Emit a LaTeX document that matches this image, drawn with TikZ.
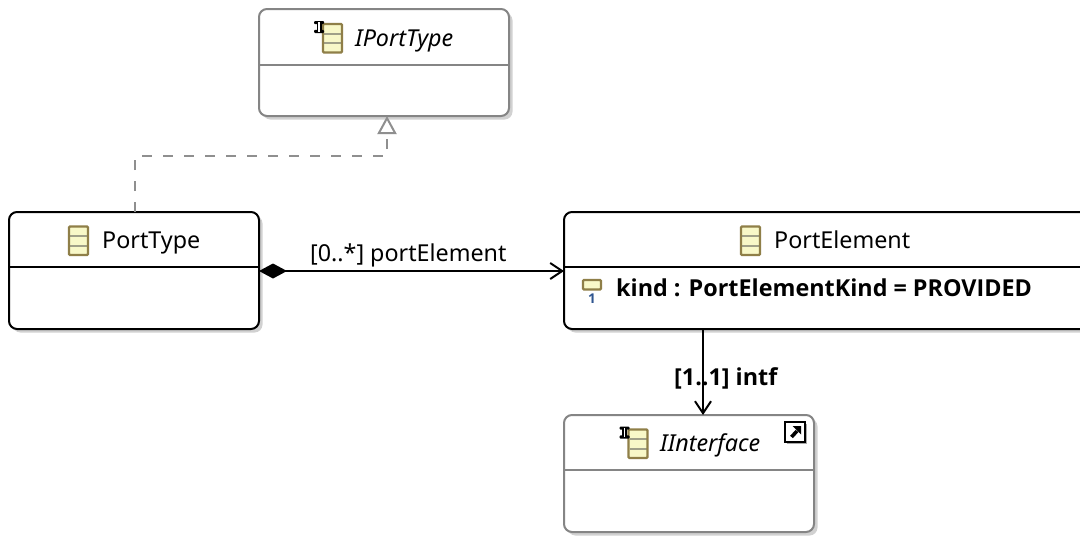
\documentclass[tikz,border=0pt]{standalone}
\usepackage{fontspec}
\setmainfont{Noto Sans}
\newfontfamily\boldfam{Open Sans}
\usetikzlibrary{arrows.meta,shadows}
\definecolor{edgegray}{HTML}{858585}
\definecolor{dashgray}{HTML}{8F8F8F}
\definecolor{iconfill}{HTML}{F8F8C8}
\definecolor{iconedge}{HTML}{8F7F48}
\definecolor{iconbar}{HTML}{A0A088}
\definecolor{iconblue}{HTML}{2F5590}
\tikzset{
  classbox/.style={draw=black,fill=white,line width=2pt,rounded corners=8pt,inner sep=0pt,outer sep=0pt,
    drop shadow={shadow xshift=3.5pt,shadow yshift=-3.5pt,fill=black!18,opacity=1}},
  graybox/.style={classbox,draw=edgegray},
  divider/.style={line width=2pt},
  label/.style={inner sep=0pt,font=\fontsize{23.3}{26}\selectfont},
  boldlabel/.style={label,font=\fontsize{23.35}{26}\selectfont\boldfam\bfseries},
  ital/.style={label,font=\fontsize{23.3}{26}\selectfont\itshape},
  classicon/.pic={
    \fill[iconfill] (0,0) rectangle (19,28.5);
    \draw[iconbar,line width=2pt] (1,9.5) -- (18,9.5) (1,19) -- (18,19);
    \draw[iconedge,line width=2.2pt,rounded corners=1pt] (0,0) rectangle (19,28.5);
  },
  lockmark/.pic={
    \fill[black,rounded corners=1pt] (0,0) rectangle (10,3.2);
    \fill[black,rounded corners=1pt] (0,8.8) rectangle (10,12);
    \fill[black] (2.5,2) rectangle (7.5,10);
    \fill[white] (4.2,1.3) rectangle (5.8,10.7);
  },
}
\begin{document}
\begin{tikzpicture}[x=1pt,y=-1pt]
\useasboundingbox (0,0) rectangle (1080,536);
\clip (0,0) rectangle (1080,536);
\fill[white] (0,0) rectangle (1080,536);

% boxes
\node[graybox,anchor=north west,minimum width=250pt,minimum height=107pt] (iport) at (259,9) {};
\node[classbox,anchor=north west,minimum width=250pt,minimum height=117pt] (ptype) at (9,212) {};
\node[classbox,anchor=north west,minimum width=560pt,minimum height=117pt] (pelem) at (564,212) {};
\node[graybox,anchor=north west,minimum width=250pt,minimum height=117pt] (iintf) at (564,415) {};

% dividers
\draw[divider,draw=edgegray] (iport.west |- 0,65) -- (iport.east |- 0,65);
\draw[divider] (ptype.west |- 0,267) -- (ptype.east |- 0,267);
\draw[divider] (pelem.west |- 0,267) -- (pelem.east |- 0,267);
\draw[divider,draw=edgegray] (iintf.west |- 0,470) -- (iintf.east |- 0,470);

% icons
\pic at (323,24) {classicon};
\pic at (314,21) {lockmark};
\pic at (69,226.5) {classicon};
\pic at (741,226.5) {classicon};
\pic at (628.5,429.5) {classicon};
\pic at (619.5,426.5) {lockmark};
\fill[iconfill] (583,280) rectangle (601,289.5);
\draw[iconedge,line width=2.2pt,rounded corners=1pt] (583,280) rectangle (601,289.5);
\node[inner sep=0pt,text=iconblue,font=\fontsize{13.5}{13.5}\selectfont\boldfam\bfseries] (one) at (592,298.5) {1};
% shortcut marker
\draw[black,fill=white,line width=1.6pt] (785,422) rectangle (805,442);
\draw[edgegray!70,line width=1pt] (786.5,443.5) -- (806.5,443.5) -- (806.5,423.5);
\draw[black,line width=3.6pt] (791.5,437) -- (797,431);
\fill[black] (792.5,426) -- (801,426) -- (801,434.5) -- cycle;

% texts
\node[ital,anchor=base west] (t1) at (355,46) {IPortType};
\node[label,anchor=base west] (t2) at (102,248) {PortType};
\node[label,anchor=base west] (t3) at (774,248) {PortElement};
\node[boldlabel,anchor=base west] (t4) at (616,296) {kind : PortElementKind = PROVIDED};
\node[ital,anchor=base west] (t5) at (660,451.5) {IInterface};
\node[label,anchor=base west] (l1) at (310,261) {[0..*] portElement};
\node[boldlabel,anchor=base west] (l2) at (674,385) {[1..1] intf};

% connectors
\coordinate (upx) at (135,190);
\coordinate (bendx) at (387,156);
\coordinate (downx) at (703,372);
\coordinate (acrossy) at (400,271);
\draw[dashgray,line width=2pt,dash pattern=on 10pt off 11pt,
      -{Triangle[open,length=18pt,width=19pt,line width=2pt,fill=white]}]
  (ptype.north -| upx) |- (bendx) -- (iport.south -| bendx);
\draw[black,line width=2pt,
      {Diamond[length=28pt,width=15pt,fill=black]}-{Straight Barb[length=12pt,width=16pt,line width=2pt]}]
  (ptype.east |- acrossy) -- (pelem.west |- acrossy);
\draw[black,line width=2pt,-{Straight Barb[length=12pt,width=16pt,line width=2pt]}]
  (pelem.south -| downx) -- (iintf.north -| downx);
\end{tikzpicture}
\end{document}
